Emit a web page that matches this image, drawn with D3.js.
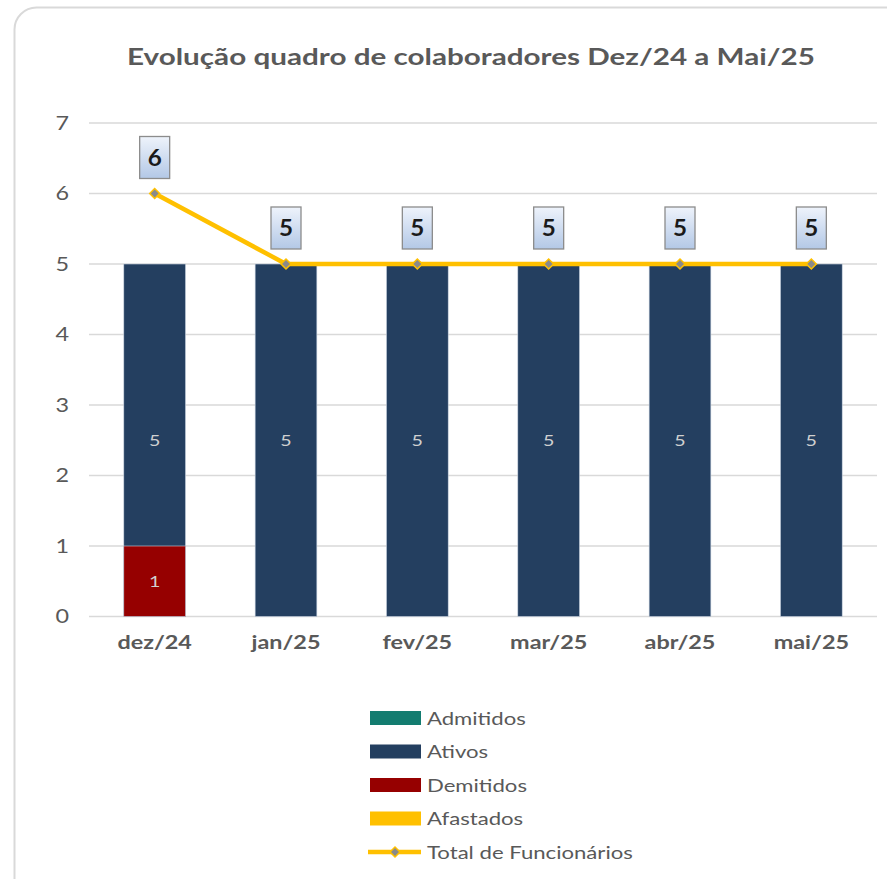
<!DOCTYPE html>
<html>
<head>
<meta charset="utf-8">
<script src="https://cdn.jsdelivr.net/npm/d3@7"></script>
<style>
  body { margin: 0; background: #fff; }
  svg { display: block; font-family: Lato, "Open Sans", sans-serif; }
</style>
</head>
<body>
<svg id="chart" width="887" height="879"></svg>
<script>
const categories = ["dez/24", "jan/25", "fev/25", "mar/25", "abr/25", "mai/25"];
const admitidos = [0, 0, 0, 0, 0, 0];
const ativos = [5, 5, 5, 5, 5, 5];
const demitidos = [1, 0, 0, 0, 0, 0];
const afastados = [0, 0, 0, 0, 0, 0];
const total = [6, 5, 5, 5, 5, 5];
const yTicks = [0, 1, 2, 3, 4, 5, 6, 7];

const colors = {
    admitidos: "#137c70",
    ativos: "#243f60",
    demitidos: "#960000",
    afastados: "#ffc000",
    total: "#ffc000"
};

// the original text is drawn a bit wide, stretch it horizontally
const stretch = "scale(1.23,1)";

const svg = d3.select("#chart");

const defs = svg.append("defs");
const grad = defs.append("linearGradient")
    .attr("id", "lblGrad")
    .attr("x1", 0).attr("y1", 0).attr("x2", 0).attr("y2", 1);
grad.append("stop").attr("offset", "0%").attr("stop-color", "#eef3fb");
grad.append("stop").attr("offset", "100%").attr("stop-color", "#b3c8e6");

// outer frame
svg.append("rect")
    .attr("x", 14.5).attr("y", 7.5)
    .attr("width", 900).attr("height", 900)
    .attr("rx", 22)
    .attr("fill", "#fff")
    .attr("stroke", "#d9d9d9")
    .attr("stroke-width", 2);

svg.append("text")
    .attr("x", 127).attr("y", 65)
    .attr("textLength", 688)
    .attr("lengthAdjust", "spacingAndGlyphs")
    .attr("font-size", 22)
    .attr("font-weight", "bold")
    .attr("fill", "#595959")
    .text("Evolução quadro de colaboradores Dez/24 a Mai/25");

const x = d3.scaleBand()
    .domain(categories)
    .range([89, 877])
    .paddingInner(0.53)
    .paddingOuter(0.265);

const y = d3.scaleLinear()
    .domain([0, 7])
    .range([616.5, 123]);

// gridlines
svg.append("g")
    .selectAll("line")
    .data(yTicks)
    .enter().append("line")
    .attr("x1", 89).attr("x2", 877)
    .attr("y1", d => y(d)).attr("y2", d => y(d))
    .attr("stroke", "#d9d9d9")
    .attr("stroke-width", 1.3);

// y axis labels
const yAxis = d3.axisLeft(y).tickValues(yTicks).tickFormat(d3.format("d")).tickSize(0).tickPadding(0);
const yg = svg.append("g")
    .attr("transform", "translate(69,0)")
    .call(yAxis);
yg.select(".domain").remove();
yg.selectAll("text")
    .attr("font-size", 19)
    .attr("font-family", "Lato, 'Open Sans', sans-serif")
    .attr("fill", "#595959")
    .attr("transform", stretch);

// x axis labels
const xAxis = d3.axisBottom(x).tickSize(0).tickPadding(0);
const xg = svg.append("g")
    .attr("transform", "translate(0,636)")
    .call(xAxis);
xg.select(".domain").remove();
xg.selectAll("text")
    .attr("font-size", 19)
    .attr("font-weight", "bold")
    .attr("font-family", "Lato, 'Open Sans', sans-serif")
    .attr("fill", "#595959")
    .attr("transform", stretch);

// bars (overlapped, like the original)
const barSeries = [
    { key: "afastados", values: afastados },
    { key: "admitidos", values: admitidos },
    { key: "ativos", values: ativos },
    { key: "demitidos", values: demitidos }
];

barSeries.forEach(s => {
    const g = svg.append("g");
    const rows = categories.map((c, i) => ({ cat: c, v: s.values[i] })).filter(d => d.v > 0);
    g.selectAll("rect")
        .data(rows)
        .enter().append("rect")
        .attr("x", d => x(d.cat))
        .attr("width", x.bandwidth())
        .attr("y", d => y(d.v))
        .attr("height", d => y(0) - y(d.v))
        .attr("fill", colors[s.key])
        .attr("stroke", "#c9d3e0")
        .attr("stroke-width", 0.6);
    g.selectAll("text")
        .data(rows)
        .enter().append("text")
        .attr("transform", d => `translate(${x(d.cat) + x.bandwidth() / 2},${y(d.v / 2) + 6}) ${stretch}`)
        .attr("text-anchor", "middle")
        .attr("font-size", 16)
        .attr("fill", "#d0d0d0")
        .text(d => d.v);
});

// total line
const line = d3.line()
    .x((d, i) => x(categories[i]) + x.bandwidth() / 2)
    .y(d => y(d));

svg.append("path")
    .datum(total)
    .attr("d", line)
    .attr("fill", "none")
    .attr("stroke", colors.total)
    .attr("stroke-width", 4.5)
    .attr("stroke-linejoin", "round");

// square turned 45 degrees, like Excel's diamond marker
const marker = d3.symbol().type(d3.symbolSquare).size(50);
svg.append("g")
    .selectAll("path")
    .data(total)
    .enter().append("path")
    .attr("d", marker)
    .attr("transform", (d, i) => `translate(${x(categories[i]) + x.bandwidth() / 2},${y(d)}) rotate(45)`)
    .attr("fill", "#8a8a8a")
    .attr("stroke", colors.total)
    .attr("stroke-width", 1.5);

// total labels in boxes
const lbl = svg.append("g")
    .selectAll("g")
    .data(total)
    .enter().append("g")
    .attr("transform", (d, i) => `translate(${x(categories[i]) + x.bandwidth() / 2},${y(d) - 36})`);
lbl.append("rect")
    .attr("x", -15).attr("y", -21)
    .attr("width", 30).attr("height", 42)
    .attr("fill", "url(#lblGrad)")
    .attr("stroke", "#8c8c8c")
    .attr("stroke-width", 1.3);
lbl.append("text")
    .attr("y", 8)
    .attr("text-anchor", "middle")
    .attr("font-size", 22)
    .attr("font-weight", "bold")
    .attr("fill", "#1a1a1a")
    .attr("transform", "scale(1.1,1)")
    .text(d => d);

// legend
const legendItems = [
    { name: "Admitidos", key: "admitidos", type: "rect" },
    { name: "Ativos", key: "ativos", type: "rect" },
    { name: "Demitidos", key: "demitidos", type: "rect" },
    { name: "Afastados", key: "afastados", type: "rect" },
    { name: "Total de Funcionários", key: "total", type: "line" }
];

const legend = svg.append("g")
    .selectAll("g")
    .data(legendItems)
    .enter().append("g")
    .attr("transform", (d, i) => `translate(370,${718 + i * 33.5})`);

legend.filter(d => d.type === "rect").append("rect")
    .attr("x", 0).attr("y", -7)
    .attr("width", 51).attr("height", 14)
    .attr("fill", d => colors[d.key]);

const lineItems = legend.filter(d => d.type === "line");
lineItems.append("line")
    .attr("x1", -2).attr("x2", 51)
    .attr("y1", 0).attr("y2", 0)
    .attr("stroke", colors.total)
    .attr("stroke-width", 4.5);
lineItems.append("path")
    .attr("d", marker)
    .attr("transform", "translate(25,0) rotate(45)")
    .attr("fill", "#8a8a8a")
    .attr("stroke", colors.total)
    .attr("stroke-width", 1.5);

legend.append("text")
    .attr("transform", `translate(57,6.5) ${stretch}`)
    .attr("font-size", 18)
    .attr("fill", "#595959")
    .text(d => d.name);
</script>
</body>
</html>
